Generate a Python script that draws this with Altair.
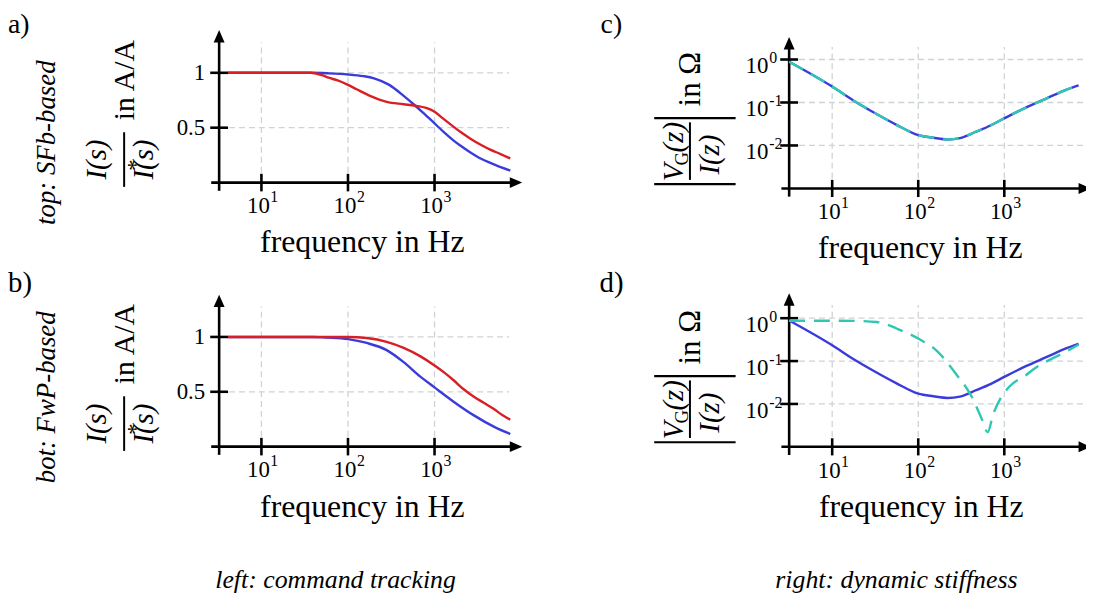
import altair as alt
import pandas as pd

# ---------------- values ----------------
# a) command tracking, SFb-based  (gain in A/A)
freq_a_blue = [4.1, 10, 20, 37, 60, 100, 150, 200, 300, 440, 600, 800, 1000, 1300, 1650, 2000, 2600, 3500, 4400, 5800, 7500]
gain_a_blue = [1.0, 1.0, 1.0, 1.0, 0.995, 0.985, 0.97, 0.95, 0.89, 0.79, 0.70, 0.61, 0.54, 0.455, 0.385, 0.335, 0.275, 0.215, 0.18, 0.14, 0.11]
freq_a_red = [4.1, 10, 20, 37, 50, 60, 76, 100, 126, 180, 280, 440, 600, 800, 1000, 1270, 1650, 2000, 2600, 3500, 4400, 5800, 7500]
gain_a_red = [1.0, 1.0, 1.0, 1.0, 0.978, 0.955, 0.93, 0.89, 0.85, 0.79, 0.735, 0.714, 0.70, 0.68, 0.645, 0.58, 0.51, 0.46, 0.40, 0.34, 0.30, 0.26, 0.22]

# b) command tracking, FwP-based
freq_b_blue = [4.1, 10, 20, 40, 57, 100, 165, 280, 440, 680, 1000, 1660, 2850, 4900, 7500]
gain_b_blue = [1.0, 1.0, 1.0, 1.0, 0.994, 0.98, 0.945, 0.88, 0.77, 0.64, 0.54, 0.41, 0.285, 0.18, 0.115]
freq_b_red = [4.1, 10, 20, 40, 100, 165, 280, 440, 680, 1000, 1300, 1660, 2150, 2850, 3700, 4900, 6000, 7500]
gain_b_red = [1.0, 1.0, 1.0, 1.0, 1.0, 0.99, 0.955, 0.90, 0.825, 0.74, 0.675, 0.605, 0.525, 0.455, 0.40, 0.34, 0.29, 0.245]

# c) / d) dynamic stiffness |V_G/I| in Ohm
freq_cd = [3.16, 10, 17.8, 31.6, 56, 100, 150, 220, 305, 470, 700, 1000, 1780, 3070, 5300, 7300]
stiff_c_blue = [0.885, 0.234, 0.110, 0.0562, 0.0302, 0.0174, 0.0151, 0.0138, 0.0148, 0.0209, 0.0295, 0.0427, 0.0759, 0.123, 0.200, 0.251]
stiff_c_cyan = [0.885, 0.234, 0.110, 0.0562, 0.0302, 0.0174, 0.0151, 0.0138, 0.0148, 0.0209, 0.0295, 0.0427, 0.0759, 0.123, 0.200, 0.251]
stiff_d_blue = [0.885, 0.234, 0.110, 0.0562, 0.0302, 0.0174, 0.0151, 0.0138, 0.0148, 0.0209, 0.0295, 0.0427, 0.0759, 0.123, 0.200, 0.251]
freq_d_cyan = [3.16, 10, 17.8, 33, 42, 56, 100, 162, 275, 415, 540, 640, 740, 910, 1140, 1780, 2340, 3300, 5100, 7300]
stiff_d_cyan = [0.871, 0.871, 0.866, 0.813, 0.724, 0.575, 0.335, 0.178, 0.0501, 0.0151, 0.00479, 0.00219, 0.00562, 0.0138, 0.0251, 0.0468, 0.0708, 0.105, 0.162, 0.240]

# axis ticks
xticks = [10, 100, 1000]
xtick_exp = ["1", "2", "3"]
lin_yticks = [0.5, 1.0]
lin_ytick_labels = ["0.5", "1"]
log_yticks = [1.0, 0.1, 0.01]
log_ytick_exp = ["0", "-1", "-2"]

# ---------------- layout / style ----------------
M = 8
FONT = "Liberation Serif"
BLUE = "#3b3bdb"
RED = "#d91f26"
CYAN = "#2fc7b2"
GRID = "#cdd3d6"
ONE = pd.DataFrame({"k": [0]})

PANELS = {
    "a": dict(xpx=lambda L: 263.3 + (L - 1) * 87.2, ypx=lambda v: 181.7 - 110.6 * v, ylog=False,
              Lax=0.5115, ybot=-0.075, ytip=1.39, xleft=0.42, xtip=4.013, vtop=1.277, hend=3.863,
              ybase=0.0, xth=0.08, yth=0.103, Ylo=-0.1, Yhi=1.45),
    "b": dict(xpx=lambda L: 263.3 + (L - 1) * 87.2, ypx=lambda v: 447.7 - 110.5 * v, ylog=False,
              Lax=0.5115, ybot=-0.075, ytip=1.385, xleft=0.42, xtip=4.013, vtop=1.277, hend=3.863,
              ybase=0.0, xth=0.08, yth=0.103, Ylo=-0.1, Yhi=1.45),
    "c": dict(xpx=lambda L: 838.3 + (L - 1) * 86.7, ypx=lambda u: 57.7 - 43.3 * u, ylog=True,
              Lax=0.5, ybot=-3.19, ytip=0.524, xleft=0.41, xtip=4.007, vtop=0.29, hend=4.0,
              ybase=-3.0, xth=0.2, yth=0.104, Ylo=-3.3, Yhi=0.7),
    "d": dict(xpx=lambda L: 838.3 + (L - 1) * 86.7, ypx=lambda u: 318.3 - 43.2 * u, ylog=True,
              Lax=0.5, ybot=-3.19, ytip=0.58, xleft=0.41, xtip=4.007, vtop=0.31, hend=4.0,
              ybase=-3.0, xth=0.2, yth=0.104, Ylo=-3.3, Yhi=0.7),
}
LLO, LHI = 0.4, 4.1


def yv(p, u):
    return 10 ** u if p["ylog"] else u


def xsc(p):
    return alt.Scale(type="log", domain=[10 ** LLO, 10 ** LHI],
                     range=[p["xpx"](LLO) - M, p["xpx"](LHI) - M], nice=False)


def ysc(p):
    rng = [p["ypx"](p["Ylo"]) - M, p["ypx"](p["Yhi"]) - M]
    if p["ylog"]:
        return alt.Scale(type="log", domain=[10 ** p["Ylo"], 10 ** p["Yhi"]], range=rng, nice=False)
    return alt.Scale(type="linear", domain=[p["Ylo"], p["Yhi"]], range=rng, nice=False, zero=False)


def segs(p, rows, **kw):
    df = pd.DataFrame(rows, columns=["x0", "x1", "y0", "y1"])
    return alt.Chart(df).mark_rule(**kw).encode(
        x=alt.X("x0:Q", scale=xsc(p), axis=None), x2="x1:Q",
        y=alt.Y("y0:Q", scale=ysc(p), axis=None), y2="y1:Q")


def curve(p, f, v, color, dash=None):
    kw = dict(color=color, strokeWidth=2.4, interpolate="monotone")
    if dash:
        kw["strokeDash"] = dash
    df = pd.DataFrame({"f": f, "v": v})
    return alt.Chart(df).mark_line(**kw).encode(
        x=alt.X("f:Q", scale=xsc(p), axis=None),
        y=alt.Y("v:Q", scale=ysc(p), axis=None))


def pts_text(p, xs, ys, texts, **kw):
    df = pd.DataFrame({"x": xs, "y": ys, "t": texts})
    return alt.Chart(df).mark_text(font=FONT, color="black", **kw).encode(
        x=alt.X("x:Q", scale=xsc(p), axis=None),
        y=alt.Y("y:Q", scale=ysc(p), axis=None), text="t:N")


def arrow(p, x, y, shape):
    df = pd.DataFrame({"x": [x], "y": [y]})
    return alt.Chart(df).mark_point(shape=shape, filled=True, size=156, color="black",
                                    opacity=1, strokeWidth=0).encode(
        x=alt.X("x:Q", scale=xsc(p), axis=None),
        y=alt.Y("y:Q", scale=ysc(p), axis=None))


def txt(t, x, y, size, angle=0, italic=False, align="center", baseline="alphabetic"):
    kw = dict(font=FONT, fontSize=size, align=align, baseline=baseline, color="black")
    if angle:
        kw["angle"] = angle
    if italic:
        kw["fontStyle"] = "italic"
    return alt.Chart(ONE).mark_text(text=t, **kw).encode(x=alt.value(x - M), y=alt.value(y - M))


def vline(x, y0, y1, w=2.0):
    return alt.Chart(ONE).mark_rule(color="black", strokeWidth=w).encode(
        x=alt.value(x - M), y=alt.value(y0 - M), y2=alt.value(y1 - M))


def hline(x0, x1, y, w=2.2):
    return alt.Chart(ONE).mark_rule(color="black", strokeWidth=w).encode(
        x=alt.value(x0 - M), x2=alt.value(x1 - M), y=alt.value(y - M))


def frame(key):
    p = PANELS[key]
    base = yv(p, p["ybase"])
    xax = 10 ** p["Lax"]
    out = []
    # grid
    grid_rows = [[t, t, base, yv(p, p["vtop"])] for t in xticks]
    yt = log_yticks if p["ylog"] else lin_yticks
    grid_rows += [[xax, 10 ** p["hend"], t, t] for t in yt]
    out.append(segs(p, grid_rows, color=GRID, strokeWidth=1.3, strokeDash=[6, 4]))
    # axes lines
    ax_rows = [[10 ** p["xleft"], 10 ** (p["xtip"] - 0.07), base, base],
               [xax, xax, yv(p, p["ybot"]), yv(p, p["ytip"] - (0.06 if not p["ylog"] else 0.15))]]
    out.append(segs(p, ax_rows, color="black", strokeWidth=2.6))
    # ticks
    tick_rows = [[t, t, yv(p, p["ybase"] - p["xth"]), yv(p, p["ybase"] + p["xth"])] for t in xticks]
    yticks_u = [0, -1, -2] if p["ylog"] else lin_yticks
    tick_rows += [[10 ** (p["Lax"] - p["yth"]), 10 ** (p["Lax"] + p["yth"]), yv(p, u), yv(p, u)] for u in yticks_u]
    out.append(segs(p, tick_rows, color="black", strokeWidth=2.6))
    # arrowheads
    out.append(arrow(p, 10 ** p["xtip"], base, "M0,0L-2,-0.88L-2,0.88Z"))
    out.append(arrow(p, xax, yv(p, p["ytip"]), "M0,0L-0.88,2L0.88,2Z"))
    # tick labels
    out.append(pts_text(p, xticks, [base] * 3, ["10"] * 3, fontSize=23, align="center",
                        baseline="alphabetic", dx=-3, dy=31))
    out.append(pts_text(p, xticks, [base] * 3, xtick_exp, fontSize=16, align="left",
                        baseline="alphabetic", dx=9, dy=20))
    if p["ylog"]:
        out.append(pts_text(p, [xax] * 3, log_yticks, ["10"] * 3, fontSize=23, align="right",
                            baseline="alphabetic", dx=-21, dy=14))
        out.append(pts_text(p, [xax] * 3, log_yticks, log_ytick_exp, fontSize=16, align="left",
                            baseline="alphabetic", dx=-20, dy=4))
    else:
        out.append(pts_text(p, [xax] * 2, lin_yticks, lin_ytick_labels, fontSize=23, align="right",
                            baseline="middle", dx=-14))
    return out


layers = []
for k in ["a", "b", "c", "d"]:
    layers += frame(k)

A, B, C, D = (PANELS[k] for k in "abcd")
layers += [
    curve(A, freq_a_blue, gain_a_blue, BLUE),
    curve(A, freq_a_red, gain_a_red, RED),
    curve(B, freq_b_blue, gain_b_blue, BLUE),
    curve(B, freq_b_red, gain_b_red, RED),
    curve(C, freq_cd, stiff_c_blue, BLUE),
    curve(C, freq_cd, stiff_c_cyan, CYAN, dash=[16, 9]),
    curve(D, freq_cd, stiff_d_blue, BLUE),
    curve(D, freq_d_cyan, stiff_d_cyan, CYAN, dash=[16, 9]),
]

# x-axis titles
for (cx, by) in [(365, 252), (365, 519), (927, 258), (928, 519)]:
    layers.append(txt("frequency in Hz", cx, by, 32))

# y-axis titles, left column (I(s) / I*(s) in A/A)
for dy in [0, 266]:
    layers += [
        txt("I(s)", 107, 158.5 + dy, 29, angle=270, italic=True),
        vline(125, 131 + dy, 186 + dy),
        txt("I(s)", 154, 158.5 + dy, 29, angle=270, italic=True),
        txt("*", 144, 164 + dy, 23, angle=270),
        txt("in A/A", 135, 78.5 + dy, 30, angle=270),
    ]

# y-axis titles, right column (|V_G(z) / I(z)| in Ohm)
for dy in [0, 260]:
    layers += [
        hline(659, 741, 116.7 + dy),
        hline(659, 741, 183.3 + dy),
        vline(695, 121 + dy, 179 + dy),
        txt("V", 688, 171.5 + dy, 29, angle=270, italic=True),
        txt("G", 693, 157.5 + dy, 19, angle=270),
        txt("(z)", 688, 136 + dy, 29, angle=270, italic=True),
        txt("I(z)", 724, 153.5 + dy, 29, angle=270, italic=True),
        txt("in \u03a9", 705, 77.5 + dy, 31, angle=270),
    ]

# panel letters
layers += [
    txt("a)", 8, 9, 28, align="left", baseline="top"),
    txt("b)", 8, 292, 29, align="left"),
    txt("c)", 605, 9, 28, align="left", baseline="top"),
    txt("d)", 604, 292, 29, align="left"),
]

# row / column captions
layers += [
    txt("top: SFb-based", 47, 141.5, 27, angle=270, italic=True, baseline="middle"),
    txt("bot: FwP-based", 47, 398, 27, angle=270, italic=True, baseline="middle"),
    txt("left: command tracking", 338, 590, 26, italic=True),
    txt("right: dynamic stiffness", 903, 590, 26, italic=True),
]

chart = (
    alt.layer(*layers)
    .resolve_scale(x="independent", y="independent")
    .properties(width=1086, height=589, padding=0, autosize=alt.AutoSizeParams(type="none"))
    .configure_view(stroke=None)
)

chart.save("out.html", embed_options={"renderer": "svg", "actions": False})
